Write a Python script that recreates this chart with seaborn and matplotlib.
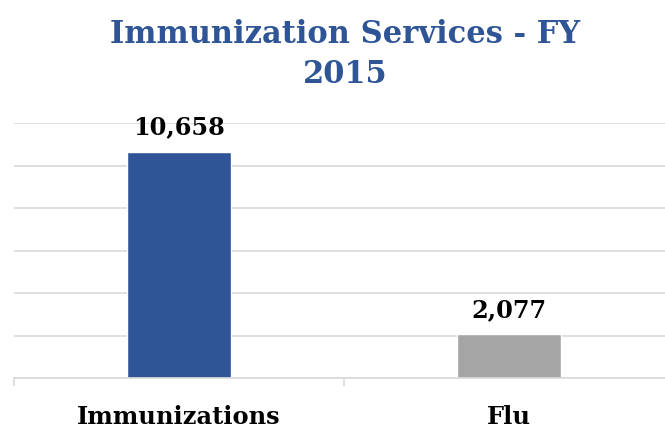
import matplotlib
matplotlib.use("Agg")
import matplotlib.pyplot as plt
import seaborn as sns
import pandas as pd
from matplotlib.ticker import FixedLocator

categories = ["Immunizations", "Flu"]
values = [10658, 2077]
bar_colors = ["#2F5597", "#A5A5A5"]
title = "Immunization Services - FY\n2015"

sns.set_theme(style="white")
plt.rcParams['font.family'] = ['DejaVu Serif', 'Liberation Serif']

df = pd.DataFrame({"cat": categories, "val": values})

fig = plt.figure(figsize=(6.65, 4.31), dpi=100)
ax = fig.add_axes([14/665, 52/431, 660/665, 255/431])
sns.barplot(data=df, x="cat", y="val", hue="cat", palette=bar_colors,
            width=0.316, legend=False, ax=ax, saturation=1)
ax.set_xlim(-0.5, 1.5)
ax.set_ylim(0, 12000)
ax.set_yticks(range(0, 12001, 2000))
ax.set_yticklabels([])
ax.tick_params(axis='y', length=0)
ax.grid(axis='y', color='#D9D9D9', linewidth=1.2)
ax.set_axisbelow(True)
for s in ['top', 'right', 'left']:
    ax.spines[s].set_visible(False)
ax.spines['bottom'].set_color('#D9D9D9')
ax.spines['bottom'].set_linewidth(1.2)
ax.set_xlabel("")
ax.set_ylabel("")
ax.xaxis.set_minor_locator(FixedLocator([-0.5, 0.5, 1.5]))
ax.tick_params(axis='x', which='both', bottom=True)
ax.tick_params(axis='x', which='major', length=0, pad=19, labelsize=17.4)
ax.tick_params(axis='x', which='minor', length=6, color='#D9D9D9', width=1.2, direction='out')
for lab in ax.get_xticklabels():
    lab.set_fontweight('bold')
    lab.set_color('black')

for i, v in enumerate(values):
    ax.text(i, v + 850, f"{v:,}", ha='center', va='baseline', fontsize=17.3,
            fontweight='bold', color='black')

fig.text(345/665, 1 - 83/431, title, ha='center', va='baseline', fontsize=22,
         fontweight='bold', color='#2F5597', linespacing=1.38)

fig.savefig("out.png", dpi=100)
